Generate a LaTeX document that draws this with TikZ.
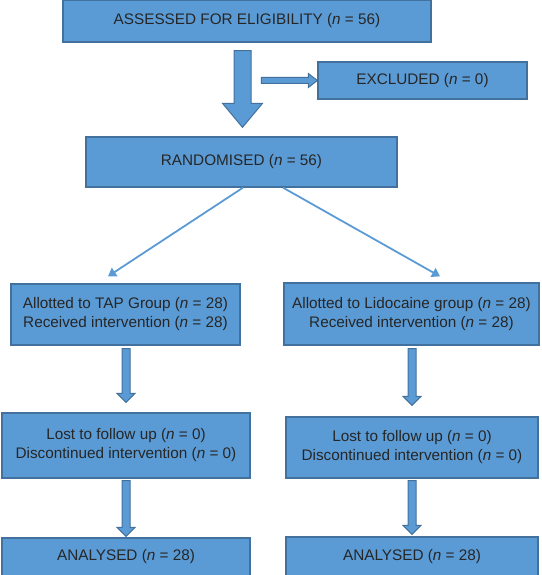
\documentclass[tikz,border=0pt]{standalone}
\usepackage{fontspec}
\setmainfont{Liberation Sans}
\usetikzlibrary{calc,arrows.meta}
\definecolor{boxfill}{HTML}{5B9BD5}
\definecolor{boxline}{HTML}{41719C}
\definecolor{txt}{HTML}{262626}
\newcommand\vblockarrow[5]{%
  \draw[barrow] let \p1=(#1), \p2=(#2) in
  (\x1-#3,\y1) -- (\x1+#3,\y1) -- (\x1+#3,\y2+#5) -- (\x1+#4,\y2+#5) -- (\x1,\y2)
  -- (\x1-#4,\y2+#5) -- (\x1-#3,\y2+#5) -- cycle;}
\newcommand\hblockarrow[5]{%
  \draw[barrow] let \p1=(#1), \p2=(#2) in
  (\x1,\y1+#3) -- (\x1,\y1-#3) -- (\x2-#5,\y1-#3) -- (\x2-#5,\y1-#4) -- (\x2,\y1)
  -- (\x2-#5,\y1+#4) -- (\x2-#5,\y1+#3) -- cycle;}
\begin{document}
\begin{tikzpicture}[x=1pt,y=-1pt,
  box/.style={draw=boxline,fill=boxfill,line width=1.3pt,inner sep=0pt,
    text=txt,align=center,font=\fontsize{15.3}{19}\selectfont},
  barrow/.style={draw=boxline,fill=boxfill,line width=1pt,line join=miter},
  thinarrow/.style={draw=boxfill,line width=1.8pt,-{Triangle[width=10pt,length=8pt]}}]
\useasboundingbox (0,0) rectangle (541,575);
\node[box,minimum width=368pt,minimum height=42pt] (ass) at (247,21) {ASSESSED FOR ELIGIBILITY (\textit{n} = 56)};
\node[box,minimum width=209pt,minimum height=37pt] (excl) at (422.5,80.5) {EXCLUDED (\textit{n} = 0)};
\node[box,minimum width=311pt,minimum height=50pt] (rand) at (241.5,162) {RANDOMISED (\textit{n} = 56)};
\node[box,minimum width=229pt,minimum height=61pt] (tap) at (125.5,314.5) {Allotted to TAP Group (\textit{n} = 28)\\Received intervention (\textit{n} = 28)};
\node[box,minimum width=255pt,minimum height=62pt] (lido) at (411.5,314) {Allotted to Lidocaine group (\textit{n} = 28)\\Received intervention (\textit{n} = 28)};
\node[box,minimum width=248pt,minimum height=65pt] (lostL) at (126,445.5) {Lost to follow up (\textit{n} = 0)\\Discontinued intervention (\textit{n} = 0)};
\node[box,minimum width=252pt,minimum height=61pt] (lostR) at (412,447.5) {Lost to follow up (\textit{n} = 0)\\Discontinued intervention (\textit{n} = 0)};
\node[box,minimum width=248pt,minimum height=38pt] (anL) at (126,557) {ANALYSED (\textit{n} = 28)};
\node[box,minimum width=252pt,minimum height=39pt] (anR) at (412,556.5) {ANALYSED (\textit{n} = 28)};
% big arrow
\coordinate (bigS) at ($(ass.south)+(-4.5,8)$);
\coordinate (bigE) at ($(rand.north)+(1,-9)$);
\vblockarrow{bigS}{bigE}{8.5pt}{20pt}{24pt}
% small arrow to excluded
\coordinate (exS) at ($(excl.west)+(-56,0)$);
\hblockarrow{exS}{excl.west}{3pt}{7pt}{9pt}
% diagonal arrows
\draw[thinarrow] ($(rand.south)+(1.5,0)$) -- ($(tap.north)+(-17.5,-7)$);
\draw[thinarrow] ($(rand.south)+(41.5,0)$) -- ($(lido.north)+(28.5,-6)$);
% column arrows
\coordinate (l1s) at ($(tap.south)+(0.5,3)$);
\coordinate (l1e) at ($(lostL.north)+(0,-10)$);
\vblockarrow{l1s}{l1e}{4pt}{9pt}{9pt}
\coordinate (r1s) at ($(lido.south)+(0.5,3)$);
\coordinate (r1e) at ($(lostR.north)+(0,-11)$);
\vblockarrow{r1s}{r1e}{4pt}{9pt}{9pt}
\coordinate (l2s) at ($(lostL.south)+(0,2)$);
\coordinate (l2e) at ($(anL.north)+(0,-1)$);
\vblockarrow{l2s}{l2e}{4pt}{9pt}{9pt}
\coordinate (r2s) at ($(lostR.south)+(0,2)$);
\coordinate (r2e) at ($(anR.north)+(0,-2)$);
\vblockarrow{r2s}{r2e}{4pt}{9pt}{9pt}
\end{tikzpicture}
\end{document}
